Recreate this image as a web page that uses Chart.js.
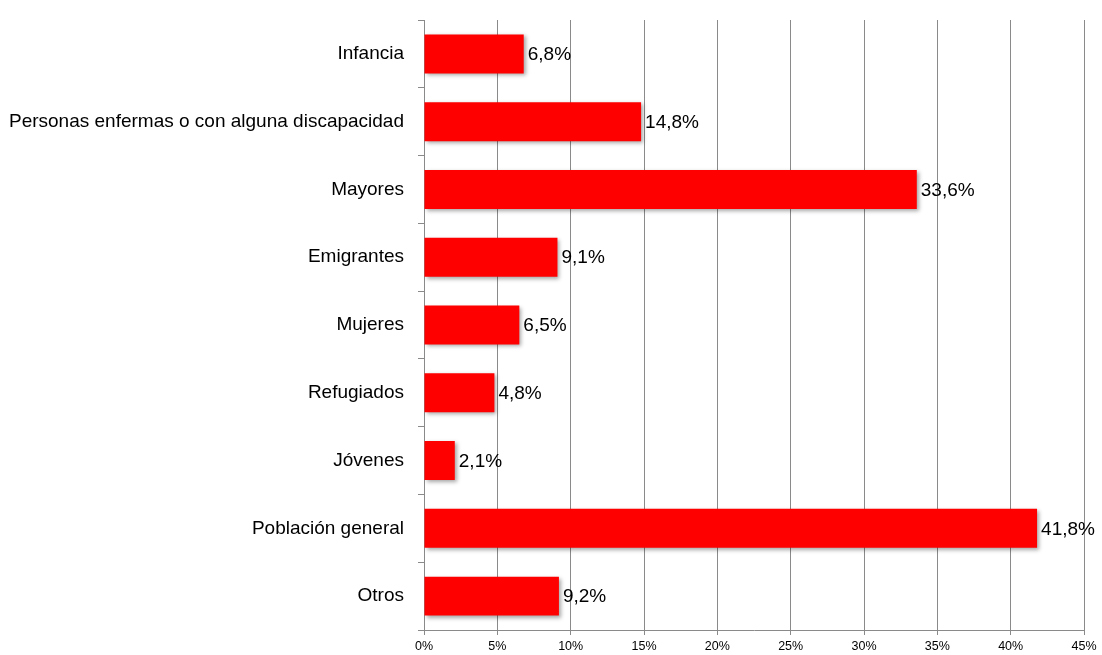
<!DOCTYPE html>
<html>
<head>
<meta charset="utf-8">
<script src="https://cdn.jsdelivr.net/npm/chart.js@4/dist/chart.umd.min.js"></script>
<style>
  html, body { margin: 0; padding: 0; background: #fff; }
  #wrap { width: 1102px; height: 655px; }
</style>
</head>
<body>
<div id="wrap"><canvas id="grafico" width="1102" height="655"></canvas></div>
<script>
// Datos del gráfico
const categorias = [
    "Infancia",
    "Personas enfermas o con alguna discapacidad",
    "Mayores",
    "Emigrantes",
    "Mujeres",
    "Refugiados",
    "Jóvenes",
    "Población general",
    "Otros"
];
const porcentajes = [6.8, 14.8, 33.6, 9.1, 6.5, 4.8, 2.1, 41.8, 9.2];
const ticksEjeX = [0, 5, 10, 15, 20, 25, 30, 35, 40, 45];

const fuente = "'Liberation Sans', Arial, sans-serif";
const gris = '#8a8a8a';

// sombra de las barras
const sombraBarras = {
    id: 'sombraBarras',
    beforeDatasetsDraw(chart) {
        const ctx = chart.ctx;
        ctx.save();
        ctx.shadowColor = 'rgba(0,0,0,0.35)';
        ctx.shadowBlur = 4;
        ctx.shadowOffsetX = 2;
        ctx.shadowOffsetY = 2;
    },
    afterDatasetsDraw(chart) {
        chart.ctx.restore();
    }
};

// etiquetas con el valor al final de cada barra
const etiquetasValor = {
    id: 'etiquetasValor',
    afterDraw(chart) {
        const ctx = chart.ctx;
        const meta = chart.getDatasetMeta(0);
        ctx.save();
        ctx.font = "19px " + fuente;
        ctx.fillStyle = '#000';
        ctx.textAlign = 'left';
        ctx.textBaseline = 'middle';
        meta.data.forEach((bar, i) => {
            const txt = porcentajes[i].toFixed(1).replace('.', ',') + '%';
            ctx.fillText(txt, bar.x + 4, bar.y + 1);
        });
        ctx.restore();
    }
};

new Chart(document.getElementById('grafico'), {
    type: 'bar',
    data: {
        labels: categorias,
        datasets: [{
            data: porcentajes,
            backgroundColor: '#ff0000',
            borderWidth: 0,
            barPercentage: 0.575,
            categoryPercentage: 1
        }]
    },
    options: {
        indexAxis: 'y',
        responsive: false,
        animation: false,
        layout: { padding: { top: 20, right: 18, left: 0, bottom: 0 } },
        plugins: {
            legend: { display: false },
            tooltip: { enabled: false }
        },
        scales: {
            x: {
                min: 0,
                max: 45,
                afterBuildTicks(scale) {
                    scale.ticks = ticksEjeX.map(v => ({ value: v }));
                },
                afterFit(scale) { scale.height = 25; },
                grid: { color: gris, lineWidth: 1, tickLength: 5 },
                border: { color: gris, width: 1 },
                ticks: {
                    color: '#000',
                    padding: 4,
                    font: { family: fuente, size: 12.5 },
                    callback: v => v + '%'
                }
            },
            y: {
                afterFit(scale) {
                    scale.width = 424;
                    scale.paddingTop = 0;
                    scale.paddingBottom = 0;
                },
                grid: { drawOnChartArea: false, color: gris, tickLength: 6, offset: true },
                border: { color: gris, width: 1 },
                ticks: {
                    color: '#000',
                    padding: 14,
                    font: { family: fuente, size: 19 }
                }
            }
        }
    },
    plugins: [sombraBarras, etiquetasValor]
});
</script>
</body>
</html>
